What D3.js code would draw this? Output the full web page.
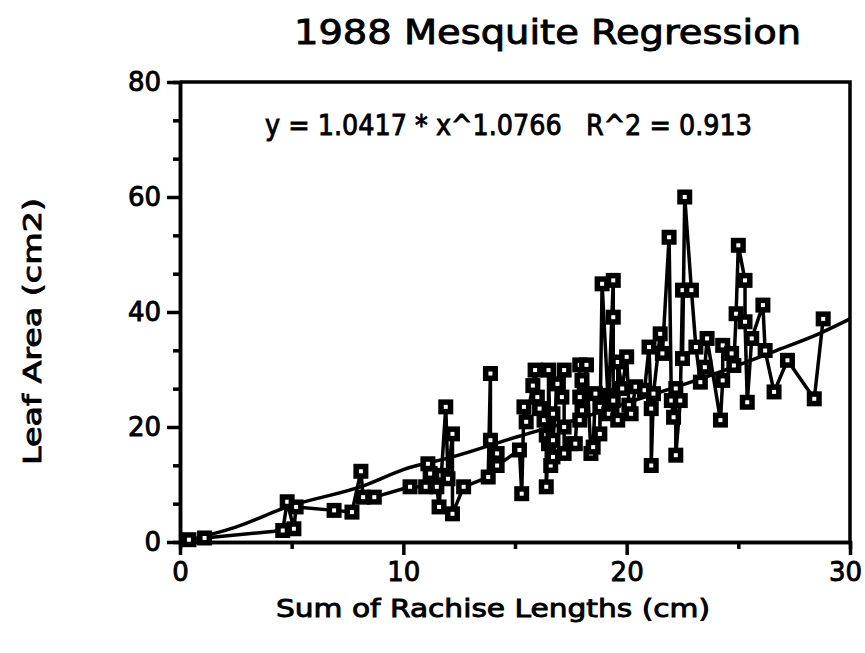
<!DOCTYPE html>
<html>
<head>
<meta charset="utf-8">
<script src="https://cdn.jsdelivr.net/npm/d3@7"></script>
<style>
  body { margin: 0; background: #fff; }
  text { font-family: "DejaVu Sans", sans-serif; fill: #000; }
</style>
</head>
<body>
<div id="chart-area"></div>
<script>
const MARGIN = {LEFT: 180, RIGHT: 15, TOP: 82, BOTTOM: 111}
const WIDTH = 865 - MARGIN.LEFT - MARGIN.RIGHT
const HEIGHT = 653 - MARGIN.TOP - MARGIN.BOTTOM

// sum of rachise lengths (cm), in data order
const rachise = [0.4, 1.1, 4.6, 4.8, 5.1, 5.2, 6.9, 7.7, 8.1, 8.2, 8.7, 10.3, 11.0, 11.1, 11.2, 11.5,
  11.6, 11.7, 11.9, 12.0, 12.2, 12.2, 12.7, 13.8, 13.9, 13.9, 14.2, 14.2, 15.2, 15.3, 15.4, 15.5,
  15.8, 15.9, 16.0, 16.1, 16.3, 16.4, 16.4, 16.5, 16.5, 16.6, 16.7, 16.7, 16.7, 16.9, 17.1, 17.2,
  17.2, 17.2, 17.5, 17.7, 17.9, 17.9, 17.9, 18.0, 18.0, 18.2, 18.4, 18.5, 18.6, 18.8, 18.8, 18.9,
  19.2, 19.2, 19.4, 19.4, 19.4, 19.6, 19.6, 19.8, 20.0, 20.1, 20.2, 20.4, 20.8, 21.0, 21.1, 21.1,
  21.2, 21.5, 21.6, 21.9, 22.0, 22.1, 22.2, 22.2, 22.4, 22.5, 22.5, 22.6, 22.9, 23.1, 23.3, 23.5,
  23.6, 24.2, 24.3, 24.3, 24.7, 24.8, 24.9, 25.0, 25.3, 25.3, 25.4, 25.6, 26.1, 26.2, 26.6, 27.2,
  28.4, 28.8]

// leaf area (cm2)
const leafArea = [0.4, 0.7, 2.0, 7.0, 2.3, 6.1, 5.5, 5.2, 12.3, 7.8, 7.8, 9.6, 9.6, 13.6, 11.9, 9.6,
  6.1, 11.6, 23.5, 11.0, 18.8, 4.9, 9.6, 11.3, 29.3, 17.7, 15.4, 13.3, 16.0, 8.4, 23.5, 20.9,
  27.2, 29.9, 25.2, 23.2, 21.2, 18.6, 9.6, 17.1, 29.9, 13.3, 14.8, 22.3, 17.7, 27.5, 25.2, 29.9,
  20.0, 15.4, 17.1, 17.1, 30.8, 25.2, 21.2, 28.1, 22.9, 30.8, 15.4, 16.5, 25.8, 23.5, 18.8, 44.9,
  22.3, 25.5, 45.5, 39.1, 24.6, 21.2, 31.3, 26.7, 32.2, 23.8, 22.3, 27.0, 26.4, 33.9, 23.2, 13.3,
  25.8, 36.2, 32.8, 53.0, 24.6, 21.7, 26.7, 15.1, 24.6, 43.8, 31.9, 60.0, 43.8, 33.9, 27.8, 30.4,
  35.4, 21.2, 28.1, 34.2, 32.8, 30.7, 39.7, 51.6, 45.5, 38.3, 24.3, 35.4, 41.2, 33.3, 26.1, 31.6,
  24.9, 38.8]

// fitted curve as drawn on the chart
const fitX = [0, 2.5, 4.8, 8.3, 10, 12.2, 15.1, 18, 20, 23.1, 26.7, 28.6, 30]
const fitY = [0, 2.6, 6.1, 9.9, 12.6, 14.8, 18.3, 21.6, 24.2, 28.1, 33.3, 36.2, 38.8]

const xMajor = [0, 10, 20, 30]
const xMinor = [5, 15, 25]
const yMajor = [0, 20, 40, 60, 80]
const yMinor = [20/3, 40/3, 80/3, 100/3, 140/3, 160/3, 200/3, 220/3]

const points = rachise.map((d, i) => ({x: d, y: leafArea[i]}))
const fit = fitX.map((d, i) => ({x: d, y: fitY[i]}))

const svg = d3.select("#chart-area").append("svg")
  .attr("width", 865)
  .attr("height", 653)

const g = svg.append("g")
  .attr("transform", `translate(${MARGIN.LEFT}, ${MARGIN.TOP})`)

const x = d3.scaleLinear().domain([0, 30]).range([0, WIDTH])
const y = d3.scaleLinear().domain([0, 80]).range([HEIGHT, 0])

// scanned text looks heavy, so give it a thin outline
const heavy = sel => sel.attr("stroke", "#000").attr("stroke-width", 0.9)

// title
svg.append("text")
  .attr("x", 294)
  .attr("y", 44)
  .attr("font-size", "34px")
  .attr("textLength", 507)
  .attr("lengthAdjust", "spacingAndGlyphs")
  .call(heavy)
  .text("1988 Mesquite Regression")

// axes
const styleAxis = sel => {
  sel.select(".domain").attr("stroke-width", 3.5)
  sel.selectAll(".tick line").attr("stroke-width", 3.5)
  sel.selectAll("text").attr("font-size", "26px").attr("font-family", "DejaVu Sans").call(heavy)
}

g.append("g")
  .attr("transform", `translate(0, ${HEIGHT})`)
  .call(d3.axisBottom(x).tickValues(xMinor).tickSize(7).tickFormat(""))
  .call(styleAxis)

const xAxisGroup = g.append("g")
  .attr("transform", `translate(0, ${HEIGHT})`)
  .call(d3.axisBottom(x).tickValues(xMajor).tickSize(13).tickPadding(8).tickSizeOuter(0))
  .call(styleAxis)

// keep the last label inside the window
xAxisGroup.selectAll(".tick text").filter(d => d === 30).attr("dx", "-5")

g.append("g")
  .call(d3.axisLeft(y).tickValues(yMinor).tickSize(7).tickFormat(""))
  .call(styleAxis)

g.append("g")
  .call(d3.axisLeft(y).tickValues(yMajor).tickSize(13).tickPadding(6).tickSizeOuter(0))
  .call(styleAxis)

// top and right frame
g.append("path")
  .attr("d", `M0,0H${WIDTH}V${HEIGHT}`)
  .attr("fill", "none")
  .attr("stroke", "#000")
  .attr("stroke-width", 3.5)

// axis titles
svg.append("text")
  .attr("x", 276)
  .attr("y", 617)
  .attr("font-size", "25px")
  .attr("textLength", 434)
  .attr("lengthAdjust", "spacingAndGlyphs")
  .call(heavy)
  .text("Sum of Rachise Lengths (cm)")

svg.append("text")
  .attr("transform", "rotate(-90)")
  .attr("x", -465)
  .attr("y", 41)
  .attr("font-size", "25px")
  .attr("textLength", 267)
  .attr("lengthAdjust", "spacingAndGlyphs")
  .call(heavy)
  .text("Leaf Area  (cm2)")

// equation
svg.append("text")
  .attr("x", 265)
  .attr("y", 135)
  .attr("font-size", "28px")
  .attr("textLength", 487)
  .attr("lengthAdjust", "spacingAndGlyphs")
  .style("white-space", "pre")
  .call(heavy)
  .text("y = 1.0417 * x^1.0766   R^2 = 0.913")

// fitted curve
const fitLine = d3.line()
  .x(d => x(d.x))
  .y(d => y(d.y))
  .curve(d3.curveMonotoneX)

g.append("path")
  .datum(fit)
  .attr("d", fitLine)
  .attr("fill", "none")
  .attr("stroke", "#000")
  .attr("stroke-width", 3.5)

// data line
const dataLine = d3.line().x(d => x(d.x)).y(d => y(d.y))

g.append("path")
  .datum(points)
  .attr("d", dataLine)
  .attr("fill", "none")
  .attr("stroke", "#000")
  .attr("stroke-width", 3.5)
  .attr("stroke-linejoin", "round")

// markers
const marks = g.selectAll(".pt").data(points)
  .enter().append("g")
  .attr("class", "pt")
  .attr("transform", d => `translate(${x(d.x)}, ${y(d.y)})`)

marks.append("rect")
  .attr("x", -7.5).attr("y", -7.5)
  .attr("width", 15).attr("height", 15)
  .attr("fill", "#000")

marks.append("rect")
  .attr("x", -2).attr("y", -2)
  .attr("width", 4).attr("height", 4)
  .attr("fill", "#fff")
</script>
</body>
</html>
